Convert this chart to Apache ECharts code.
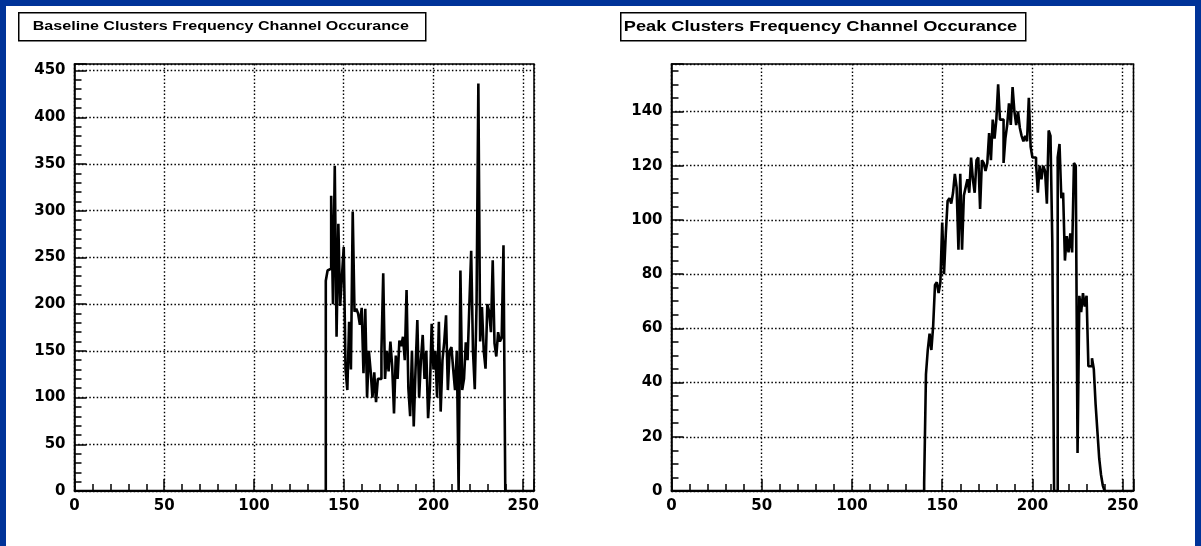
<!DOCTYPE html>
<html>
<head>
<meta charset="utf-8">
<script src="https://cdn.jsdelivr.net/npm/echarts@6/dist/echarts.min.js"></script>
<style>
  html, body { margin: 0; padding: 0; background: #fff; }
  #frame {
    width: 1189px; height: 540px;
    border-top: 6px solid #003399;
    border-left: 6px solid #003399;
    border-right: 6px solid #003399;
    background: #fff;
  }
  #main { width: 1189px; height: 540px; }
</style>
</head>
<body>
<div id="frame"><div id="main"></div></div>
<script>
// histogram range (channels)
const xMin = 0;
const xMax = 256;

// titles
const baseTitle = 'Baseline Clusters Frequency Channel Occurance';
const peakTitle = 'Peak Clusters Frequency Channel Occurance';

// baseline clusters: counts per channel, first bin = baseStart
const baseStart = 140;
const baseCounts = [
  225, 236, 238, 316, 200, 348, 165, 286, 198, 230,
  261, 130, 108, 181, 130, 299, 192, 195, 190, 178,
  196, 126, 195, 100, 150, 128, 100, 127, 95, 120,
  120, 150, 233, 120, 150, 128, 160, 133, 83, 145,
  120, 161, 155, 165, 140, 215, 110, 80, 150, 69,
  130, 183, 100, 140, 167, 120, 150, 78, 110, 179,
  130, 150, 100, 181, 85, 140, 160, 188, 108, 150,
  154, 130, 108, 150, 0, 236, 108, 120, 159, 140,
  200, 257, 150, 109, 200, 436, 160, 197, 150, 131,
  200, 192, 170, 247, 158, 144, 170, 160, 164, 263
];

// peak clusters: counts per channel, first bin = peakStart
const peakStart = 140;
const peakCounts = [
  3, 43, 52, 58, 52, 61, 76, 77, 73, 77,
  99, 80, 95, 107, 108, 106, 110, 117, 112, 89,
  117, 89, 109, 112, 115, 110, 123, 115, 110, 122,
  123, 104, 122, 121, 118, 121, 132, 122, 137, 130,
  137, 150, 137, 137, 121, 130, 135, 143, 135, 149,
  140, 135, 140, 134, 131, 129, 131, 129, 145, 127,
  123, 123, 121, 110, 120, 115, 120, 118, 106, 133,
  131, 92, 0, 0, 123, 128, 108, 110, 85, 94,
  88, 95, 88, 121, 120, 14, 72, 66, 73, 68,
  72, 46, 46, 49, 45, 32, 22, 12, 6, 2
];

// y axis ranges (ROOT style: max * 1.05)
const baseYMax = 457;
const baseYStep = 50;
const peakYMax = 157.5;
const peakYStep = 20;
const xStep = 50;

// turn bin counts into step-line points over the whole range
function histPoints(start, counts) {
  const pts = [];
  for (let i = xMin; i < xMax; i++) {
    const k = i - start;
    const v = (k >= 0 && k < counts.length) ? counts[k] : 0;
    pts.push([i, v]);
  }
  pts.push([xMax, 0]);
  return pts;
}

const font = "'Liberation Sans', Arial, sans-serif";
const labelFont = "'DejaVu Sans', sans-serif";
const black = '#000';
const dots = { type: [1.5, 2.2], color: black, width: 1.4 };

function xAxisFor(gridIndex) {
  return {
    type: 'value', gridIndex, min: xMin, max: xMax, interval: xStep,
    axisLine: { show: true, lineStyle: { color: black, width: 1.5 } },
    axisTick: { show: true, inside: true, length: 12, lineStyle: { color: black, width: 1.5 } },
    minorTick: { show: true, splitNumber: 5, length: 7, lineStyle: { color: black, width: 1.5 } },
    splitLine: { show: true, lineStyle: dots },
    axisLabel: { color: black, fontFamily: labelFont, fontWeight: 'bold', fontSize: 15, margin: 8, showMaxLabel: false }
  };
}

function yAxisFor(gridIndex, max, step, minors) {
  return {
    type: 'value', gridIndex, min: 0, max: max, interval: step,
    axisLine: { show: true, lineStyle: { color: black, width: 1.5 } },
    axisTick: { show: true, inside: true, length: 12, lineStyle: { color: black, width: 1.5 } },
    minorTick: { show: true, splitNumber: minors, length: 7, lineStyle: { color: black, width: 1.5 } },
    splitLine: { show: true, lineStyle: dots },
    axisLabel: { color: black, fontFamily: labelFont, fontWeight: 'bold', fontSize: 15, margin: 9, showMaxLabel: false }
  };
}

function histSeries(idx, start, counts) {
  return {
    type: 'line', step: 'end', xAxisIndex: idx, yAxisIndex: idx,
    data: histPoints(start, counts),
    showSymbol: false, symbol: 'none', silent: true,
    lineStyle: { color: black, width: 2.6 }
  };
}

// ROOT-like title pave: the text is stretched sideways to fill the box
function titleBox(x, y, w, h, text, size, pad, stretch) {
  return {
    type: 'group', left: x, top: y,
    children: [
      { type: 'rect', shape: { x: 0, y: 0, width: w, height: h },
        style: { fill: '#fff', stroke: black, lineWidth: 1.5 } },
      { type: 'text', x: pad, y: h / 2, scaleX: stretch,
        style: { text: text, fill: black, font: 'bold ' + size + 'px ' + font, textVerticalAlign: 'middle' } }
    ]
  };
}

const chart = echarts.init(document.getElementById('main'));
chart.setOption({
  animation: false,
  backgroundColor: '#fff',
  grid: [
    { left: 68.5, top: 58, width: 459.5, height: 427, show: true, borderColor: black, borderWidth: 1.5 },
    { left: 665.5, top: 58, width: 462, height: 427, show: true, borderColor: black, borderWidth: 1.5 }
  ],
  xAxis: [xAxisFor(0), xAxisFor(1)],
  yAxis: [yAxisFor(0, baseYMax, baseYStep, 5), yAxisFor(1, peakYMax, peakYStep, 4)],
  series: [
    histSeries(0, baseStart, baseCounts),
    histSeries(1, peakStart, peakCounts)
  ],
  graphic: [
    titleBox(12, 6, 407, 28, baseTitle, 12, 14, 1.34),
    titleBox(614, 6, 405, 28, peakTitle, 14, 3, 1.3)
  ]
});
</script>
</body>
</html>
